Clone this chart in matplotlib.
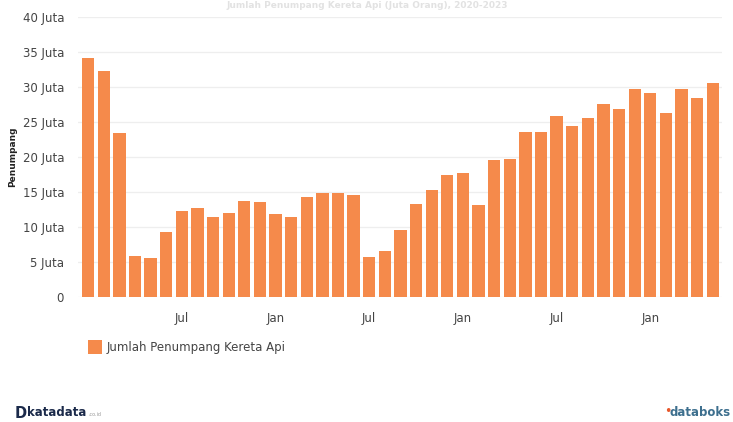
import matplotlib
matplotlib.use("Agg")
import matplotlib.pyplot as plt
from matplotlib.patches import Rectangle

months = ["Jan 2020", "Feb 2020", "Mar 2020", "Apr 2020", "Mei 2020", "Jun 2020",
          "Jul 2020", "Agu 2020", "Sep 2020", "Okt 2020", "Nov 2020", "Des 2020",
          "Jan 2021", "Feb 2021", "Mar 2021", "Apr 2021", "Mei 2021", "Jun 2021",
          "Jul 2021", "Agu 2021", "Sep 2021", "Okt 2021", "Nov 2021", "Des 2021",
          "Jan 2022", "Feb 2022", "Mar 2022", "Apr 2022", "Mei 2022", "Jun 2022",
          "Jul 2022", "Agu 2022", "Sep 2022", "Okt 2022", "Nov 2022", "Des 2022",
          "Jan 2023", "Feb 2023", "Mar 2023", "Apr 2023", "Mei 2023"]
passengers = [34.2, 32.3, 23.5, 5.85, 5.5, 9.3, 12.2, 12.7, 11.45, 12.0, 13.75, 13.5,
              11.9, 11.45, 14.3, 14.9, 14.9, 14.5, 5.7, 6.5, 9.5, 13.3, 15.3, 17.4,
              17.7, 13.1, 19.5, 19.7, 23.6, 23.6, 25.8, 24.4, 25.6, 27.6, 26.9, 29.8,
              29.1, 26.3, 29.8, 28.4, 30.6]
series_name = "Jumlah Penumpang Kereta Api"
y_ticks = [0, 5, 10, 15, 20, 25, 30, 35, 40]
y_labels = ["0", "5 Juta", "10 Juta", "15 Juta", "20 Juta", "25 Juta", "30 Juta", "35 Juta", "40 Juta"]
x_tick_pos = [6, 12, 18, 24, 30, 36]
x_tick_labels = ["Jul", "Jan", "Jul", "Jan", "Jul", "Jan"]

W, H = 733, 422
fig = plt.figure(figsize=(W / 100, H / 100), dpi=100)
fig.patch.set_facecolor("white")

bar_color = "#F58A4B"
ax = fig.add_axes([78 / W, 1 - 296.7 / H, (722 - 78) / W, (296.7 - 17.3) / H])
x = list(range(len(passengers)))
ax.bar(x, passengers, width=0.79, color=bar_color, zorder=3)
ax.set_xlim(-0.65, len(passengers) - 1 + 0.59)
ax.set_ylim(0, 40)
ax.set_yticks(y_ticks)
ax.set_yticklabels(y_labels)
ax.set_xticks(x_tick_pos)
ax.set_xticklabels(x_tick_labels)
ax.grid(axis="y", color="#eeeeee", linewidth=0.9, zorder=0)
for s in ax.spines.values():
    s.set_visible(False)
ax.tick_params(axis="both", length=0, colors="#444444", labelsize=8.5)
ax.tick_params(axis="y", pad=10)
ax.tick_params(axis="x", pad=11)
ax.set_ylabel("Penumpang", fontsize=6.5, fontweight="bold", color="#222222", labelpad=4)
ax.yaxis.set_label_coords(-(78 - 17) / (722 - 78), 0.5)

# faint title at the top (barely visible in the reference)
fig.text(367 / W, 1 - 5 / H, "Jumlah Penumpang Kereta Api (Juta Orang), 2020-2023",
         ha="center", va="center", fontsize=6.5, color="#e2e2e2", fontweight="bold")

# legend
fig.patches.append(Rectangle((88 / W, 1 - 354 / H), 14 / W, 14 / H,
                             transform=fig.transFigure, facecolor=bar_color,
                             edgecolor="none"))
fig.text(107 / W, 1 - 347 / H, series_name, ha="left", va="center",
         fontsize=8.5, color="#444444")

# logos as text
fig.text(15 / W, 1 - 413 / H, "D", ha="left", va="center", fontsize=10.5,
         fontweight="bold", color="#1b2a4a")
fig.text(27 / W, 1 - 413 / H, "katadata", ha="left", va="center", fontsize=8.5,
         fontweight="bold", color="#1b2a4a")
fig.text(88 / W, 1 - 415 / H, ".co.id", ha="left", va="center", fontsize=3.5,
         color="#999999")
fig.text(664 / W, 1 - 412 / H, "\u2022", ha="left", va="center", fontsize=9,
         color="#e8572a")
fig.text(731 / W, 1 - 412 / H, "databoks", ha="right", va="center", fontsize=8.5,
         fontweight="bold", color="#3d6f8e")

fig.savefig("out.png", dpi=100, facecolor="white")
